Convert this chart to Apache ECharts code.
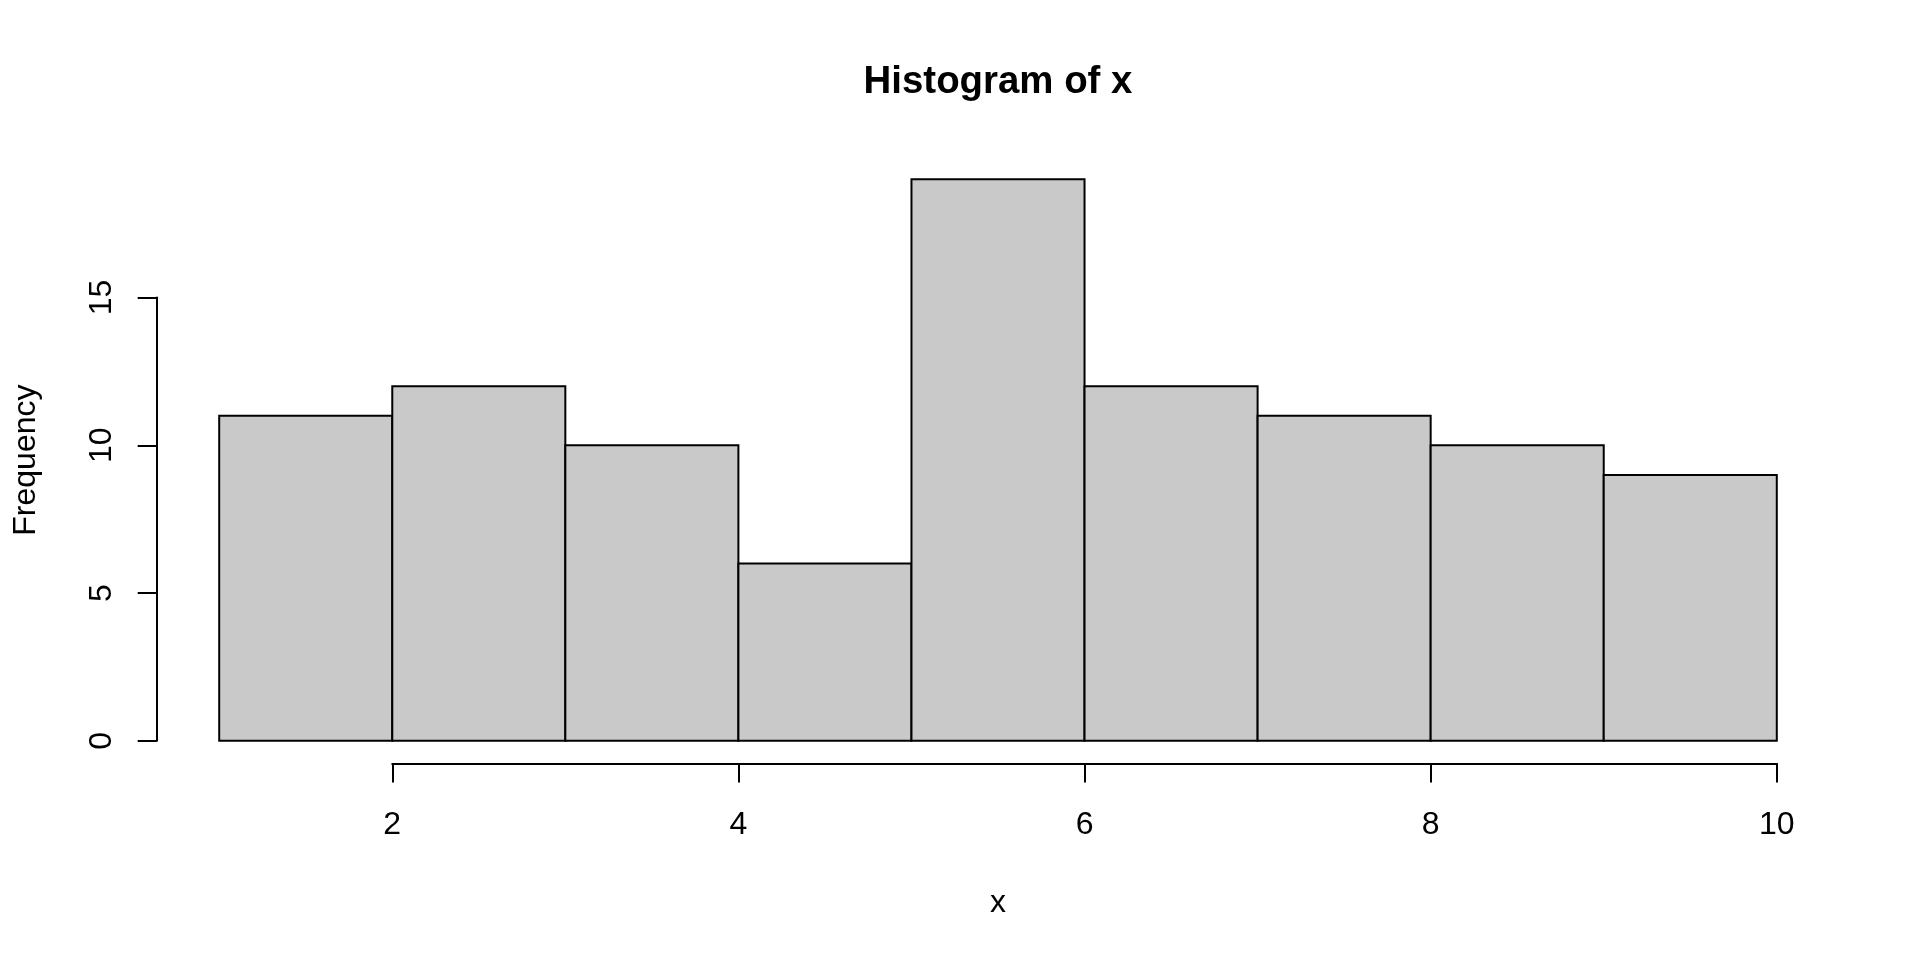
<!DOCTYPE html>
<html>
<head>
<meta charset="utf-8">
<script src="https://cdn.jsdelivr.net/npm/echarts@6/dist/echarts.min.js"></script>
<style>
html,body{margin:0;padding:0;background:#fff;}
#chart{width:1920px;height:960px;}
</style>
</head>
<body>
<div id="chart"></div>
<script>
// ---- data ----
const binStarts = [1, 2, 3, 4, 5, 6, 7, 8, 9];
const binEnds   = [2, 3, 4, 5, 6, 7, 8, 9, 10];
const counts    = [11, 12, 10, 6, 19, 12, 11, 10, 9];
const xTicks    = [2, 4, 6, 8, 10];
const yTicks    = [0, 5, 10, 15];
const titleText = 'Histogram of x';
const xLabel    = 'x';
const yLabel    = 'Frequency';

// ---- layout ----
const FONT = '"Liberation Sans", Arial, Helvetica, sans-serif';
const xRange = [0.64, 10.36];
const yRange = [-0.76, 19.76];
const plot = {left: 156.9, right: 80.9, top: 156.9, bottom: 196.7};
const W = 1920, H = 960;
const plotW = W - plot.left - plot.right;
const plotH = H - plot.top - plot.bottom;
const xPx = v => plot.left + (v - xRange[0]) / (xRange[1] - xRange[0]) * plotW;
const yPx = v => plot.top + (yRange[1] - v) / (yRange[1] - yRange[0]) * plotH;

const xT0 = xTicks[0], xT1 = xTicks[xTicks.length - 1];
const yT0 = yTicks[0], yT1 = yTicks[yTicks.length - 1];

const axisStyle = {lineStyle: {color: '#000', width: 2}};
const hidden = {show: false};

const chart = echarts.init(document.getElementById('chart'), null, {renderer: 'canvas'});
chart.setOption({
  backgroundColor: '#fff',
  animation: false,
  title: {
    text: titleText,
    left: plot.left + plotW / 2,
    textAlign: 'center',
    top: 63,
    padding: 0,
    textStyle: {fontFamily: FONT, fontSize: 38.4, fontWeight: 'bold', color: '#000', lineHeight: 38.4}
  },
  grid: [
    {left: plot.left, right: plot.right, top: plot.top, bottom: plot.bottom},
    {left: plot.left, right: plot.right, top: yPx(yT1), bottom: H - yPx(yT0)},
    {left: xPx(xT0), right: W - xPx(xT1), top: plot.top, bottom: plot.bottom}
  ],
  xAxis: [
    {gridIndex: 0, type: 'value', min: xRange[0], max: xRange[1],
     axisLine: hidden, axisTick: hidden, axisLabel: hidden, splitLine: hidden,
     name: xLabel, nameLocation: 'middle', nameGap: 124,
     nameTextStyle: {fontFamily: FONT, fontSize: 32, color: '#000', lineHeight: 32}},
    {gridIndex: 1, type: 'value', show: false},
    {gridIndex: 2, type: 'value', min: xT0, max: xT1, interval: xTicks[1] - xTicks[0], position: 'bottom',
     axisLine: {show: true, ...axisStyle},
     axisTick: {show: true, length: 19.2, ...axisStyle},
     axisLabel: {show: true, margin: 45.5, fontFamily: FONT, fontSize: 32, color: '#000', lineHeight: 32,
                 showMinLabel: true, showMaxLabel: true},
     splitLine: hidden}
  ],
  yAxis: [
    {gridIndex: 0, type: 'value', min: yRange[0], max: yRange[1],
     axisLine: hidden, axisTick: hidden, axisLabel: hidden, splitLine: hidden,
     name: yLabel, nameLocation: 'middle', nameGap: 115, nameRotate: 90,
     nameTextStyle: {fontFamily: FONT, fontSize: 32, color: '#000', lineHeight: 32}},
    {gridIndex: 1, type: 'value', min: yT0, max: yT1, interval: yTicks[1] - yTicks[0], position: 'left',
     axisLine: {show: true, ...axisStyle},
     axisTick: {show: true, length: 19.2, ...axisStyle},
     axisLabel: {show: true, rotate: 90, margin: 39, fontFamily: FONT, fontSize: 32, color: '#000', lineHeight: 32,
                 showMinLabel: true, showMaxLabel: true},
     splitLine: hidden},
    {gridIndex: 2, type: 'value', show: false}
  ],
  series: [{
    type: 'custom',
    xAxisIndex: 0,
    yAxisIndex: 0,
    data: binStarts.map((s, i) => [s, binEnds[i], counts[i]]),
    encode: {x: [0, 1], y: 2},
    renderItem: function (params, api) {
      const p0 = api.coord([api.value(0), 0]);
      const p1 = api.coord([api.value(1), api.value(2)]);
      return {
        type: 'rect',
        shape: {x: p0[0], y: p1[1], width: p1[0] - p0[0], height: p0[1] - p1[1]},
        style: {fill: '#c9c9c9', stroke: '#000', lineWidth: 2}
      };
    }
  }]
});
</script>
</body>
</html>
